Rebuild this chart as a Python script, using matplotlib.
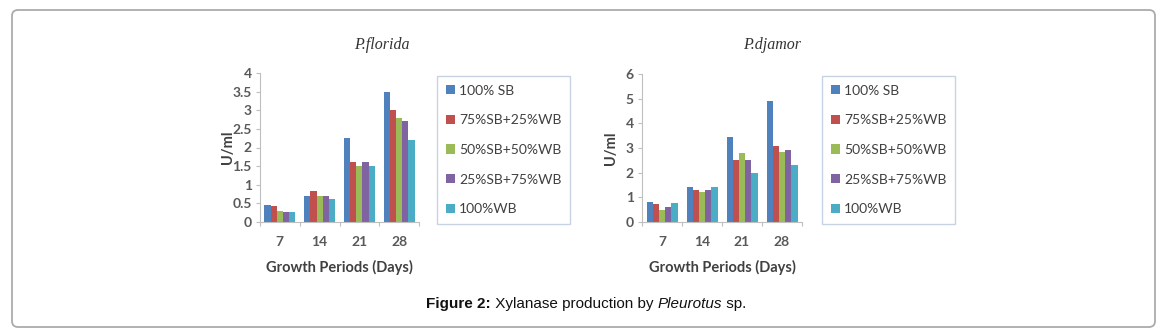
import matplotlib
matplotlib.use("Agg")
import matplotlib.pyplot as plt
from matplotlib.patches import FancyBboxPatch
from matplotlib.transforms import IdentityTransform
import numpy as np

periods = ["7", "14", "21", "28"]
series = ["100% SB", "75%SB+25%WB", "50%SB+50%WB", "25%SB+75%WB", "100%WB"]
colors = ["#4F81BD", "#C0504D", "#9BBB59", "#8064A2", "#4BACC6"]

florida_100sb = [0.45, 0.70, 2.25, 3.50]
florida_75sb = [0.42, 0.82, 1.60, 3.00]
florida_50sb = [0.30, 0.70, 1.50, 2.80]
florida_25sb = [0.27, 0.70, 1.60, 2.70]
florida_100wb = [0.28, 0.62, 1.50, 2.20]

djamor_100sb = [0.80, 1.40, 3.45, 4.90]
djamor_75sb = [0.72, 1.30, 2.50, 3.10]
djamor_50sb = [0.50, 1.20, 2.80, 2.85]
djamor_25sb = [0.60, 1.30, 2.50, 2.90]
djamor_100wb = [0.78, 1.40, 2.00, 2.30]

florida = [florida_100sb, florida_75sb, florida_50sb, florida_25sb, florida_100wb]
djamor = [djamor_100sb, djamor_75sb, djamor_50sb, djamor_25sb, djamor_100wb]

W, H = 1166, 334
fig = plt.figure(figsize=(W / 100, H / 100), dpi=100)
fig.patch.set_facecolor("white")

# outer rounded frame (pixel coords)
box = FancyBboxPatch((12, 7), 1143, 317, boxstyle="round,pad=0,rounding_size=6",
                     transform=IdentityTransform(), facecolor="none",
                     edgecolor="#ababab", linewidth=1.3)
fig.patches.append(box)

tick_font = dict(family="Lato", size=10, color="#595959", weight="bold")
label_color = "#404040"


def px_axes(x0, x1, ytop, ybot):
    return fig.add_axes([x0 / W, (H - ybot) / H, (x1 - x0) / W, (ybot - ytop) / H])


def draw_panel(x0, x1, ytop, ybot, data, ymax, ystep, title, title_x, ylab_x, legend_x):
    ax = px_axes(x0, x1, ytop, ybot)
    n = len(series)
    bw = 0.155
    x = np.arange(len(periods))
    handles = []
    for i, (vals, c, name) in enumerate(zip(data, colors, series)):
        h = ax.bar(x + (i - (n - 1) / 2) * bw, vals, width=bw, color=c,
                   edgecolor="none", label=name)
        handles.append(h)
    ax.set_xlim(-0.5, len(periods) - 0.5)
    ax.set_ylim(0, ymax)
    yt = np.arange(0, ymax + 1e-9, ystep)
    ax.set_yticks(yt)
    ax.set_yticklabels([("%g" % v) for v in yt], **tick_font)
    ax.set_xticks(np.arange(-0.5, len(periods), 1.0))
    ax.set_xticklabels([])
    ax.set_xticks(x, minor=True)
    ax.set_xticklabels(periods, minor=True, **tick_font)
    ax.tick_params(axis="x", which="minor", length=0, pad=10)
    ax.tick_params(axis="x", which="major", length=3, color="#bfbfbf", direction="out")
    ax.tick_params(axis="y", length=3, color="#bfbfbf", direction="out", pad=3)
    for s in ["top", "right"]:
        ax.spines[s].set_visible(False)
    ax.spines["left"].set_color("#bfbfbf")
    ax.spines["bottom"].set_color("#bfbfbf")
    ax.set_facecolor("none")
    ax.set_xlabel("Growth Periods (Days)", fontsize=10.5, fontweight="bold",
                  color=label_color, family="Lato", labelpad=9)
    fig.text(ylab_x / W, (H - (ytop + ybot) / 2) / H, "U/ml", rotation=90,
             ha="center", va="center", fontsize=10.5, fontweight="bold",
             color=label_color, family="Lato")
    fig.text(title_x / W, (H - 45) / H, title, ha="center", va="center",
             fontsize=11.5, style="italic", family="Liberation Serif", color="#333333")
    leg = fig.legend(handles=handles, labels=series, loc="upper left",
                     bbox_to_anchor=(legend_x / W, (H - 76) / H),
                     bbox_transform=fig.transFigure, borderaxespad=0,
                     frameon=True, fancybox=False, handlelength=0.65,
                     handleheight=0.65, handletextpad=0.3, labelspacing=1.27,
                     borderpad=0.62, prop=dict(family="Lato", size=10),
                     labelcolor="#404040")
    leg.get_frame().set_edgecolor("#b9c7dc")
    leg.get_frame().set_linewidth(1.0)
    return ax


draw_panel(260, 419, 73, 222, florida, 4, 0.5, "P.florida", 382, 228, 437)
draw_panel(642, 802, 74, 222, djamor, 6, 1, "P.djamor", 772, 611, 822)

# caption assembled from pieces with different styles
pieces = [("Figure 2:", dict(weight="bold")),
          (" Xylanase production by ", dict()),
          ("Pleurotus", dict(style="italic")),
          (" sp.", dict())]
renderer = fig.canvas.get_renderer()
texts = []
total = 0.0
for s, kw in pieces:
    t = fig.text(0, (H - 304) / H, s, ha="left", va="center", fontsize=11,
                 family="Liberation Sans", color="#111111", **kw)
    w = t.get_window_extent(renderer=renderer).width
    texts.append((t, w))
    total += w
xpos = 586 - total / 2
for t, w in texts:
    t.set_x(xpos / W)
    xpos += w

fig.savefig("out.png", dpi=100)
